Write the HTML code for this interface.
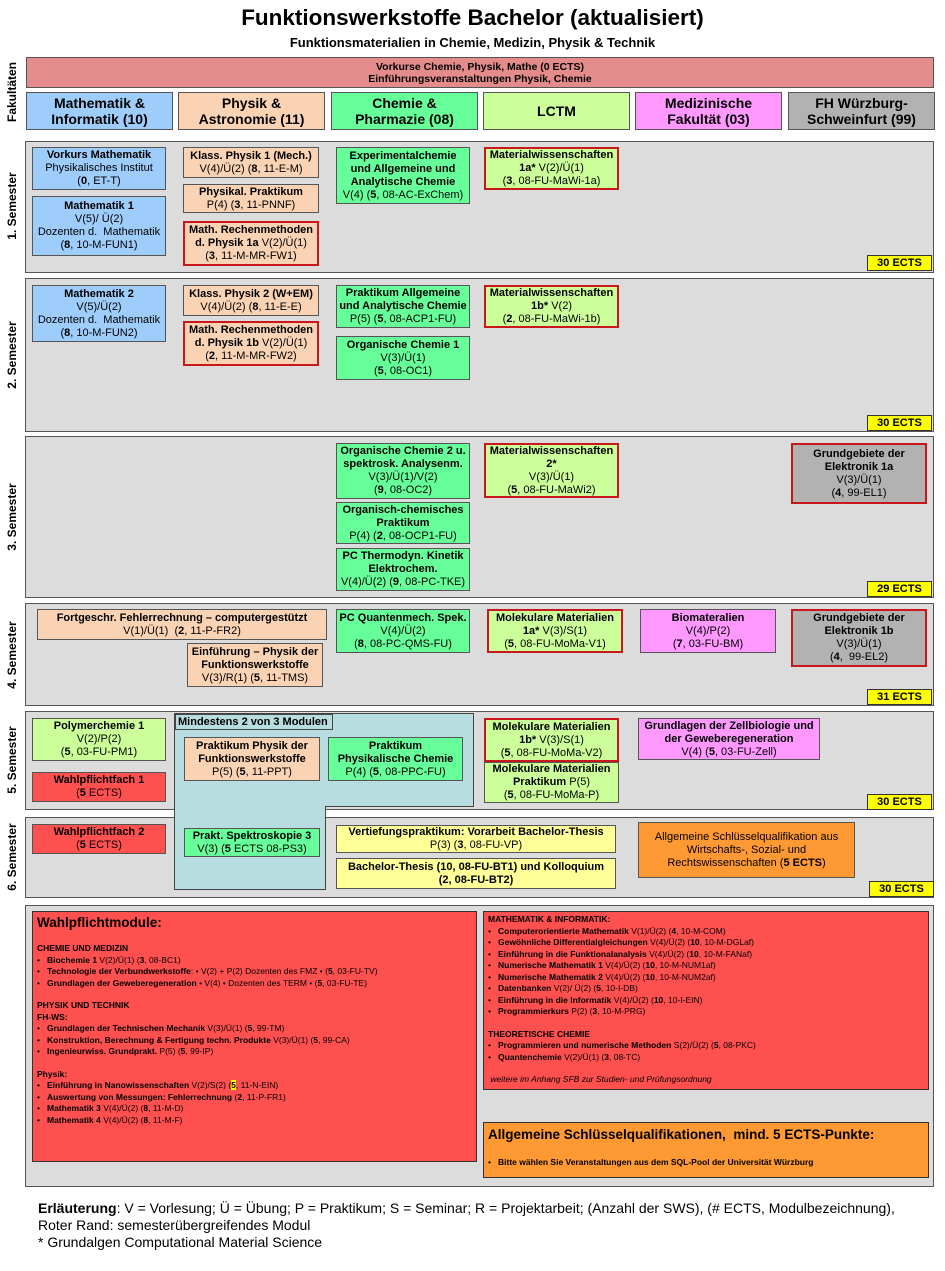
<!DOCTYPE html>
<html><head><meta charset="utf-8"><style>
*{box-sizing:border-box;margin:0;padding:0}
body{width:945px;height:1271px;background:#fff;position:relative;font-family:"Liberation Sans",Arial,sans-serif;color:#000;overflow:hidden}
.a{position:absolute}
.p{position:absolute;left:25px;width:909px;background:#dcdcdc;border:1px solid #555}
.b{position:absolute;border:1px solid #555;display:flex;justify-content:center;align-items:center;text-align:center;font-size:11px;line-height:13px}
.b>div{width:100%}
.r{border:2px solid #c8181c}
.bl{background:#9fcdfb}.pe{background:#fad3b4}.gr{background:#66ff99}.lg{background:#ccff99}.pk{background:#ff99ff}.gy{background:#b2b2b2}.rd{background:#ff5050}.ye{background:#ffff99}.or{background:#ff9933}
.e{position:absolute;left:867px;width:65px;height:16px;background:#ffff00;border:1px solid #333;font-size:11px;font-weight:bold;text-align:center;line-height:14px}
.s{position:absolute;left:12px;font-size:12px;font-weight:bold;transform:translate(-50%,-50%) rotate(-90deg);white-space:nowrap}
.h{position:absolute;top:92px;height:38px;width:147px;border:1px solid #555;font-size:14px;font-weight:bold;text-align:center;line-height:16px;display:flex;align-items:center;justify-content:center}
ul{list-style:none}
li:before{content:"•";margin-right:7px;font-weight:normal}
.sm{font-size:8.5px;line-height:11.5px}
</style></head><body>
<div class="a" style="left:0;width:945px;top:5px;text-align:center;font-size:22.5px;font-weight:bold">Funktionswerkstoffe Bachelor (aktualisiert)</div>
<div class="a" style="left:0;width:945px;top:35px;text-align:center;font-size:13px;font-weight:bold">Funktionsmaterialien in Chemie, Medizin, Physik &amp; Technik</div>
<div class="s" style="top:92px">Fakultäten</div>
<div class="b" style="left:26px;top:57px;width:908px;height:31px;background:#e48b8b;font-weight:bold;font-size:10.5px;line-height:12px"><div>Vorkurse Chemie, Physik, Mathe (0 ECTS)<br>Einführungsveranstaltungen Physik, Chemie</div></div>
<div class="h bl" style="left:26px">Mathematik &amp;<br>Informatik (10)</div>
<div class="h pe" style="left:178px">Physik &amp;<br>Astronomie (11)</div>
<div class="h gr" style="left:331px">Chemie &amp;<br>Pharmazie (08)</div>
<div class="h lg" style="left:483px">LCTM</div>
<div class="h pk" style="left:635px">Medizinische<br>Fakultät (03)</div>
<div class="h gy" style="left:788px">FH Würzburg-<br>Schweinfurt (99)</div>

<div class="p" style="top:141px;height:132px"></div>
<div class="p" style="top:278px;height:154px"></div>
<div class="p" style="top:436px;height:162px"></div>
<div class="p" style="top:603px;height:103px"></div>
<div class="p" style="top:711px;height:99px"></div>
<div class="p" style="top:817px;height:81px"></div>
<div class="p" style="top:905px;height:282px"></div>
<div class="s" style="top:206px">1. Semester</div>
<div class="s" style="top:355px">2. Semester</div>
<div class="s" style="top:517px">3. Semester</div>
<div class="s" style="top:655px">4. Semester</div>
<div class="s" style="top:760px">5. Semester</div>
<div class="s" style="top:857px">6. Semester</div>
<div class="e" style="top:255px">30 ECTS</div>
<div class="e" style="top:415px">30 ECTS</div>
<div class="e" style="top:581px">29 ECTS</div>
<div class="e" style="top:689px">31 ECTS</div>
<div class="e" style="top:794px">30 ECTS</div>
<div class="e" style="top:881px;left:869px">30 ECTS</div>

<!-- Sem 1 -->
<div class="b bl" style="left:32px;top:147px;width:134px;height:43px"><div><b>Vorkurs Mathematik</b><br>Physikalisches Institut<br>(<b>0</b>, ET-T)</div></div>
<div class="b bl" style="left:32px;top:196px;width:134px;height:60px"><div><b>Mathematik 1</b><br>V(5)/ Ü(2)<br>Dozenten d.&nbsp; Mathematik<br>(<b>8</b>, 10-M-FUN1)</div></div>
<div class="b pe" style="left:183px;top:147px;width:136px;height:31px"><div><b>Klass. Physik 1 (Mech.)</b><br>V(4)/Ü(2) (<b>8</b>, 11-E-M)</div></div>
<div class="b pe" style="left:183px;top:184px;width:136px;height:29px"><div><b>Physikal. Praktikum</b><br>P(4) (<b>3</b>, 11-PNNF)</div></div>
<div class="b pe r" style="left:183px;top:221px;width:136px;height:45px"><div><b>Math. Rechenmethoden</b><br><b>d. Physik 1a</b> V(2)/Ü(1)<br>(<b>3</b>, 11-M-MR-FW1)</div></div>
<div class="b gr" style="left:336px;top:147px;width:134px;height:57px"><div><b>Experimentalchemie<br>und Allgemeine und<br>Analytische Chemie</b><br>V(4) (<b>5</b>, 08-AC-ExChem)</div></div>
<div class="b lg r" style="left:484px;top:147px;width:135px;height:43px"><div><b>Materialwissenschaften</b><br><b>1a*</b> V(2)/Ü(1)<br>(<b>3</b>, 08-FU-MaWi-1a)</div></div>
<!-- Sem 2 -->
<div class="b bl" style="left:32px;top:285px;width:134px;height:57px"><div><b>Mathematik 2</b><br>V(5)/Ü(2)<br>Dozenten d.&nbsp; Mathematik<br>(<b>8</b>, 10-M-FUN2)</div></div>
<div class="b pe" style="left:183px;top:285px;width:136px;height:31px"><div><b>Klass. Physik 2 (W+EM)</b><br>V(4)/Ü(2) (<b>8</b>, 11-E-E)</div></div>
<div class="b pe r" style="left:183px;top:321px;width:136px;height:45px"><div><b>Math. Rechenmethoden</b><br><b>d. Physik 1b</b> V(2)/Ü(1)<br>(<b>2</b>, 11-M-MR-FW2)</div></div>
<div class="b gr" style="left:336px;top:285px;width:134px;height:43px"><div><b>Praktikum Allgemeine<br>und Analytische Chemie</b><br>P(5) (<b>5</b>, 08-ACP1-FU)</div></div>
<div class="b gr" style="left:336px;top:336px;width:134px;height:44px"><div><b>Organische Chemie 1</b><br>V(3)/Ü(1)<br>(<b>5</b>, 08-OC1)</div></div>
<div class="b lg r" style="left:484px;top:285px;width:135px;height:43px"><div><b>Materialwissenschaften</b><br><b>1b*</b> V(2)<br>(<b>2</b>, 08-FU-MaWi-1b)</div></div>
<!-- Sem 3 -->
<div class="b gr" style="left:336px;top:443px;width:134px;height:56px"><div><b>Organische Chemie 2 u.<br>spektrosk. Analysenm.</b><br>V(3)/Ü(1)/V(2)<br>(<b>9</b>, 08-OC2)</div></div>
<div class="b gr" style="left:336px;top:502px;width:134px;height:42px"><div><b>Organisch-chemisches<br>Praktikum</b><br>P(4) (<b>2</b>, 08-OCP1-FU)</div></div>
<div class="b gr" style="left:336px;top:548px;width:134px;height:43px"><div><b>PC Thermodyn. Kinetik<br>Elektrochem.</b><br>V(4)/Ü(2) (<b>9</b>, 08-PC-TKE)</div></div>
<div class="b lg r" style="left:484px;top:443px;width:135px;height:55px"><div><b>Materialwissenschaften<br>2*</b><br>V(3)/Ü(1)<br>(<b>5</b>, 08-FU-MaWi2)</div></div>
<div class="b gy r" style="left:791px;top:443px;width:136px;height:61px"><div><b>Grundgebiete der<br>Elektronik 1a</b><br>V(3)/Ü(1)<br>(<b>4</b>, 99-EL1)</div></div>
<!-- Sem 4 -->
<div class="b pe" style="left:37px;top:609px;width:290px;height:31px"><div><b>Fortgeschr. Fehlerrechnung – computergestützt</b><br>V(1)/Ü(1)&nbsp; (<b>2</b>, 11-P-FR2)</div></div>
<div class="b pe" style="left:187px;top:643px;width:136px;height:44px"><div><b>Einführung – Physik der<br>Funktionswerkstoffe</b><br>V(3)/R(1) (<b>5</b>, 11-TMS)</div></div>
<div class="b gr" style="left:336px;top:609px;width:134px;height:44px"><div><b>PC Quantenmech. Spek.</b><br>V(4)/Ü(2)<br>(<b>8</b>, 08-PC-QMS-FU)</div></div>
<div class="b lg r" style="left:487px;top:609px;width:136px;height:44px"><div><b>Molekulare Materialien</b><br><b>1a*</b> V(3)/S(1)<br>(<b>5</b>, 08-FU-MoMa-V1)</div></div>
<div class="b pk" style="left:640px;top:609px;width:136px;height:44px"><div><b>Biomateralien</b><br>V(4)/P(2)<br>(<b>7</b>, 03-FU-BM)</div></div>
<div class="b gy r" style="left:791px;top:609px;width:136px;height:58px"><div><b>Grundgebiete der<br>Elektronik 1b</b><br>V(3)/Ü(1)<br>(<b>4</b>,&nbsp; 99-EL2)</div></div>
<!-- Sem 5 -->
<div class="b lg" style="left:32px;top:718px;width:134px;height:43px"><div><b>Polymerchemie 1</b><br>V(2)/P(2)<br>(<b>5</b>, 03-FU-PM1)</div></div>
<div class="b rd" style="left:32px;top:772px;width:134px;height:30px"><div><b>Wahlpflichtfach 1</b><br>(<b>5</b> ECTS)</div></div>
<div class="a" style="left:174px;top:713px;width:300px;height:94px;background:#b8dde1;border:1px solid #444"></div>
<div class="a" style="left:174px;top:806px;width:152px;height:84px;background:#b8dde1;border:1px solid #444;border-top:none"></div>
<div class="a" style="left:175px;top:714px;width:158px;height:16px;background:#b8dde1;border:1px solid #444;font-size:11px;font-weight:bold;line-height:14px;padding-left:2px;white-space:nowrap">Mindestens 2 von 3 Modulen</div>
<div class="b pe" style="left:184px;top:737px;width:136px;height:44px"><div><b>Praktikum Physik der<br>Funktionswerkstoffe</b><br>P(5) (<b>5</b>, 11-PPT)</div></div>
<div class="b gr" style="left:328px;top:737px;width:135px;height:44px"><div><b>Praktikum<br>Physikalische Chemie</b><br>P(4) (<b>5</b>, 08-PPC-FU)</div></div>
<div class="b lg" style="left:484px;top:762px;width:135px;height:41px"><div><b>Molekulare Materialien<br>Praktikum</b> P(5)<br>(<b>5</b>, 08-FU-MoMa-P)</div></div>
<div class="b lg r" style="left:484px;top:718px;width:135px;height:44px"><div><b>Molekulare Materialien</b><br><b>1b*</b> V(3)/S(1)<br>(<b>5</b>, 08-FU-MoMa-V2)</div></div>
<div class="b pk" style="left:638px;top:718px;width:182px;height:42px"><div><b>Grundlagen der Zellbiologie und<br>der Geweberegeneration</b><br>V(4) (<b>5</b>, 03-FU-Zell)</div></div>
<!-- Sem 6 -->
<div class="b rd" style="left:32px;top:824px;width:134px;height:30px"><div><b>Wahlpflichtfach 2</b><br>(<b>5</b> ECTS)</div></div>
<div class="b gr" style="left:184px;top:828px;width:136px;height:29px"><div><b>Prakt. Spektroskopie 3</b><br>V(3) (<b>5</b> ECTS 08-PS3)</div></div>
<div class="b ye" style="left:336px;top:825px;width:280px;height:28px"><div><b>Vertiefungspraktikum: Vorarbeit Bachelor-Thesis</b><br>P(3) (<b>3</b>, 08-FU-VP)</div></div>
<div class="b ye" style="left:336px;top:858px;width:280px;height:31px"><div><b>Bachelor-Thesis (10, 08-FU-BT1) und Kolloquium<br>(2, 08-FU-BT2)</b></div></div>
<div class="b or" style="left:638px;top:822px;width:217px;height:56px"><div>Allgemeine Schlüsselqualifikation aus Wirtschafts-, Sozial- und Rechtswissenschaften (<b>5 ECTS</b>)</div></div>
<!-- Bottom -->
<div class="a rd sm" style="left:32px;top:911px;width:445px;height:251px;border:1px solid #333;padding:3px 4px">
<div style="font-size:13.5px;font-weight:bold;line-height:16px;margin-bottom:12px">Wahlpflichtmodule:</div>
<b>CHEMIE UND MEDIZIN</b>
<ul><li><b>Biochemie 1</b> V(2)/Ü(1) (<b>3</b>, 08-BC1)</li><li><b>Technologie der Verbundwerkstoffe</b>: • V(2) + P(2) Dozenten des FMZ • (<b>5</b>, 03-FU-TV)</li><li><b>Grundlagen der Geweberegeneration</b> • V(4) • Dozenten des TERM • (<b>5</b>, 03-FU-TE)</li></ul>
<div style="height:11px"></div>
<b>PHYSIK UND TECHNIK</b><br><b>FH-WS:</b>
<ul><li><b>Grundlagen der Technischen Mechanik</b> V(3)/Ü(1) (<b>5</b>, 99-TM)</li><li><b>Konstruktion, Berechnung &amp; Fertigung techn. Produkte</b> V(3)/Ü(1) (<b>5</b>, 99-CA)</li><li><b>Ingenieurwiss. Grundprakt.</b> P(5) (<b>5</b>, 99-IP)</li></ul>
<div style="height:11px"></div>
<b>Physik:</b>
<ul><li><b>Einführung in Nanowissenschaften</b> V(2)/S(2) (<b style="background:#ff0">5</b>, 11-N-EIN)</li><li><b>Auswertung von Messungen: Fehlerrechnung</b> (<b>2</b>, 11-P-FR1)</li><li><b>Mathematik 3</b> V(4)/Ü(2) (<b>8</b>, 11-M-D)</li><li><b>Mathematik 4</b> V(4)/Ü(2) (<b>8</b>, 11-M-F)</li></ul>
</div>
<div class="a rd sm" style="left:483px;top:911px;width:446px;height:179px;border:1px solid #333;padding:2px 4px">
<b>MATHEMATIK &amp; INFORMATIK:</b>
<ul><li><b>Computerorientierte Mathematik</b> V(1)/Ü(2) (<b>4</b>, 10-M-COM)</li><li><b>Gewöhnliche Differentialgleichungen</b> V(4)/Ü(2) (<b>10</b>, 10-M-DGLaf)</li><li><b>Einführung in die Funktionalanalysis</b> V(4)/Ü(2) (<b>10</b>, 10-M-FANaf)</li><li><b>Numerische Mathematik 1</b> V(4)/Ü(2) (<b>10</b>, 10-M-NUM1af)</li><li><b>Numerische Mathematik 2</b> V(4)/Ü(2) (<b>10</b>, 10-M-NUM2af)</li><li><b>Datenbanken</b> V(2)/ Ü(2) (<b>5</b>, 10-I-DB)</li><li><b>Einführung in die Informatik</b> V(4)/Ü(2) (<b>10</b>, 10-I-EIN)</li><li><b>Programmierkurs</b> P(2) (<b>3</b>, 10-M-PRG)</li></ul>
<div style="height:11px"></div>
<b>THEORETISCHE CHEMIE</b>
<ul><li><b>Programmieren und numerische Methoden</b> S(2)/Ü(2) (<b>5</b>, 08-PKC)</li><li><b>Quantenchemie</b> V(2)/Ü(1) (<b>3</b>, 08-TC)</li></ul>
<div style="height:11px"></div>
<i>&nbsp;weitere im Anhang SFB zur Studien- und Prüfungsordnung</i>
</div>
<div class="a or sm" style="left:483px;top:1122px;width:446px;height:56px;border:1px solid #333;padding:3px 4px">
<div style="font-size:13.5px;font-weight:bold;line-height:17px;margin-bottom:14px">Allgemeine Schlüsselqualifikationen,&nbsp; mind. 5 ECTS-Punkte:</div>
<ul><li><b>Bitte wählen Sie Veranstaltungen aus dem SQL-Pool der Universität Würzburg</b></li></ul>
</div>
<div class="a" style="left:38px;top:1200px;width:905px;font-size:14px;line-height:17px"><b>Erläuterung</b>: V = Vorlesung; Ü = Übung; P = Praktikum; S = Seminar; R = Projektarbeit; (Anzahl der SWS), (# ECTS, Modulbezeichnung),<br>Roter Rand: semesterübergreifendes Modul<br>* Grundalgen Computational Material Science</div>
</body></html>
